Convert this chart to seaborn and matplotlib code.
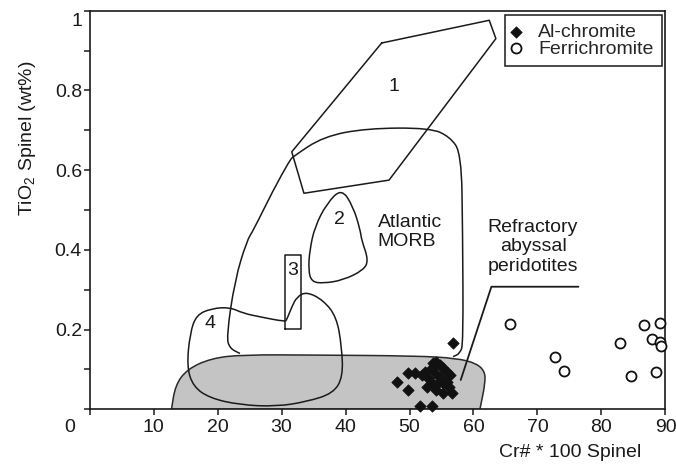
import numpy as np
import pandas as pd
import matplotlib
matplotlib.use("Agg")
import matplotlib.pyplot as plt
import matplotlib.transforms as mtransforms
from matplotlib.path import Path
from matplotlib.patches import PathPatch
from matplotlib.ticker import MultipleLocator, FuncFormatter
import seaborn as sns

# ---- point data (Cr# * 100, TiO2 wt%) ----
al_x = [56.8, 48.0, 49.8, 49.8, 50.9, 51.9, 52.4, 52.9, 53.5, 53.7, 54.2, 54.8, 55.3, 55.8,
        56.3, 54.0, 54.8, 53.5, 52.7, 54.5, 55.3, 54.2, 55.3, 56.6, 51.6, 53.5, 55.8, 56.1]
al_y = [0.166, 0.069, 0.048, 0.090, 0.090, 0.086, 0.094, 0.078, 0.103, 0.115, 0.119, 0.111, 0.103, 0.094,
        0.086, 0.090, 0.082, 0.065, 0.057, 0.065, 0.065, 0.048, 0.040, 0.040, 0.007, 0.007, 0.069, 0.057]
fe_x = [65.7, 72.8, 74.1, 82.9, 84.6, 86.6, 87.9, 89.1, 89.2, 89.3, 88.5]
fe_y = [0.214, 0.132, 0.096, 0.167, 0.084, 0.211, 0.176, 0.216, 0.170, 0.160, 0.093]

# ---- field outlines ----
field1_x = [45.65, 62.46, 63.5, 46.8, 33.5, 31.6, 45.65]
field1_y = [0.919, 0.976, 0.930, 0.575, 0.542, 0.646, 0.919]
morb_x = [23.5, 21.9, 21.4, 22.7, 24.6, 25.6, 28.7, 31.3, 31.8, 36.5, 43.3, 53.2, 56.3, 58.1,
          58.3, 58.4, 57.9, 56.8]
morb_y = [0.140, 0.153, 0.182, 0.324, 0.424, 0.449, 0.550, 0.625, 0.634, 0.684, 0.705, 0.706, 0.684, 0.642,
          0.450, 0.166, 0.140, 0.132]
field2_x = [39.4, 41.2, 42.3, 42.5, 43.6, 42.8, 39.6, 36.5, 34.7, 34.2, 34.4, 35.2, 37.1]
field2_y = [0.554, 0.508, 0.450, 0.425, 0.374, 0.349, 0.324, 0.316, 0.320, 0.349, 0.399, 0.458, 0.517]
field3_x = [30.5, 33.0, 33.0, 30.5, 30.5]
field3_y = [0.201, 0.201, 0.387, 0.387, 0.201]
field4_x = [30.5, 26.6, 24.0, 21.9, 19.1, 16.7, 15.7, 15.2, 16.2, 18.8, 23.5, 29.2, 33.9, 38.1, 39.6,
            39.4, 38.6, 36.5, 33.9, 32.4, 31.6, 30.8]
field4_y = [0.220, 0.232, 0.241, 0.256, 0.253, 0.237, 0.191, 0.107, 0.057, 0.028, 0.011, 0.007, 0.019, 0.040, 0.082,
            0.157, 0.232, 0.274, 0.295, 0.282, 0.257, 0.224]
abyssal_x = [12.8, 13.4, 15.2, 19.0, 24.0, 35.5, 51.1, 57.4, 60.5, 61.8, 61.8, 61.3, 61.0]
abyssal_y = [0.0, 0.060, 0.100, 0.128, 0.137, 0.136, 0.134, 0.128, 0.115, 0.094, 0.065, 0.023, 0.0]
leader_x = [76.4, 62.8, 58.0]
leader_y = [0.3075, 0.3075, 0.0735]

x_ticks = [0, 10, 20, 30, 40, 50, 60, 70, 80, 90]


def smooth_path(xs, ys, closed, close_straight=False):
    """Quadratic-Bezier path using the outline vertices as control points."""
    P = np.column_stack([xs, ys])
    n = len(P)
    verts, codes = [], []
    if closed:
        mids = [(P[i] + P[(i + 1) % n]) / 2 for i in range(n)]
        verts.append(mids[-1]); codes.append(Path.MOVETO)
        for i in range(n):
            verts += [P[i], mids[i]]
            codes += [Path.CURVE3, Path.CURVE3]
        verts.append(mids[-1]); codes.append(Path.CLOSEPOLY)
    else:
        verts.append(P[0]); codes.append(Path.MOVETO)
        verts.append((P[0] + P[1]) / 2); codes.append(Path.LINETO)
        for i in range(1, n - 1):
            verts += [P[i], (P[i] + P[i + 1]) / 2]
            codes += [Path.CURVE3, Path.CURVE3]
        verts.append(P[-1]); codes.append(Path.LINETO)
        if close_straight:
            verts.append(P[0]); codes.append(Path.CLOSEPOLY)
    return Path(verts, codes)


sns.set_style("white")
plt.rcParams["font.family"] = ["Liberation Sans", "DejaVu Sans"]
plt.rcParams["mathtext.fontset"] = "custom"
plt.rcParams["mathtext.rm"] = "Liberation Sans"
FS = 14
INK = "#1a1a1a"

fig = plt.figure(figsize=(6.76, 4.66), dpi=100)
ax = fig.add_axes([0.1325, 0.1217, 0.8519, 0.8553])

ax.add_patch(PathPatch(smooth_path(abyssal_x, abyssal_y, False, close_straight=True),
                       facecolor="#c4c4c4", edgecolor="#2a2a2a", lw=1.1, zorder=1))
ax.add_patch(PathPatch(smooth_path(morb_x, morb_y, False), facecolor="none", edgecolor=INK, lw=1.1, zorder=2))
ax.add_patch(PathPatch(smooth_path(field2_x, field2_y, True), facecolor="none", edgecolor=INK, lw=1.1, zorder=2))
ax.add_patch(PathPatch(smooth_path(field4_x, field4_y, True), facecolor="none", edgecolor=INK, lw=1.1, zorder=2))
ax.plot(field1_x, field1_y, color=INK, lw=1.1, zorder=2)
ax.plot(field3_x, field3_y, color=INK, lw=1.1, zorder=2)
ax.plot(leader_x, leader_y, color=INK, lw=1.3, zorder=2)

sns.scatterplot(x=al_x, y=al_y, marker="D", s=34, color="#111111", edgecolor="#111111",
                linewidth=0.5, label="Al-chromite", ax=ax, zorder=4, clip_on=False)
sns.scatterplot(x=fe_x, y=fe_y, marker="o", s=52, facecolor="white", edgecolor="#111111",
                linewidth=1.3, label="Ferrichromite", ax=ax, zorder=4, clip_on=False)

# labels of fields
ax.text(47.6, 0.809, "1", fontsize=FS, ha="center", va="center", color=INK)
ax.text(39.0, 0.475, "2", fontsize=FS, ha="center", va="center", color=INK)
ax.text(31.7, 0.349, "3", fontsize=FS, ha="center", va="center", color=INK)
ax.text(18.8, 0.214, "4", fontsize=FS, ha="center", va="center", color=INK)
ax.text(45.0, 0.445, "Atlantic\nMORB", fontsize=FS, ha="left", va="center",
        multialignment="left", linespacing=1.2, color=INK)
ax.text(69.3, 0.408, "Refractory\nabyssal\nperidotites", fontsize=FS, ha="center", va="center",
        multialignment="center", linespacing=1.2, color=INK)

ax.set_xlim(0, 90)
ax.set_ylim(0, 1)
ax.set_xticks(x_ticks)
ax.set_xticklabels([str(t) for t in x_ticks])
ax.yaxis.set_major_locator(MultipleLocator(0.2))
ax.yaxis.set_minor_locator(MultipleLocator(0.1))
ax.yaxis.set_major_formatter(FuncFormatter(
    lambda v, p: "" if abs(v) < 1e-9 else ("1" if abs(v - 1) < 1e-9 else f"{v:.1f}")))

for s in ax.spines.values():
    s.set_color(INK)
    s.set_linewidth(1.2)
ax.tick_params(axis="both", which="both", direction="out", length=4, width=1.1,
               color=INK, labelsize=FS, labelcolor=INK, bottom=True, left=True)
ax.tick_params(axis="x", pad=3)
ax.tick_params(axis="y", pad=1.5)

fig.canvas.draw()
for lab in ax.get_xticklabels():
    if lab.get_text() == "0":
        lab.set_transform(lab.get_transform() + mtransforms.ScaledTranslation(-0.20, 0, fig.dpi_scale_trans))
for lab in ax.get_yticklabels():
    if lab.get_text() == "1":
        lab.set_transform(lab.get_transform() + mtransforms.ScaledTranslation(0, -0.09, fig.dpi_scale_trans))

ax.set_xlabel("Cr# * 100 Spinel", fontsize=FS, color=INK)
ax.set_ylabel("TiO$_2$ Spinel (wt%)", fontsize=FS, color=INK)
ax.xaxis.set_label_coords(0.834, -0.087)
ax.yaxis.set_label_coords(-0.09, 0.679)

leg = ax.legend(loc="upper right", bbox_to_anchor=(0.9934, 0.989), borderaxespad=0,
                frameon=True, fancybox=False, edgecolor=INK, framealpha=1, fontsize=FS,
                handlelength=0.35, handletextpad=0.95, borderpad=0.42, labelspacing=-0.05)
leg.get_frame().set_linewidth(1.1)
leg.set_zorder(5)

fig.savefig("out.png", dpi=100)
